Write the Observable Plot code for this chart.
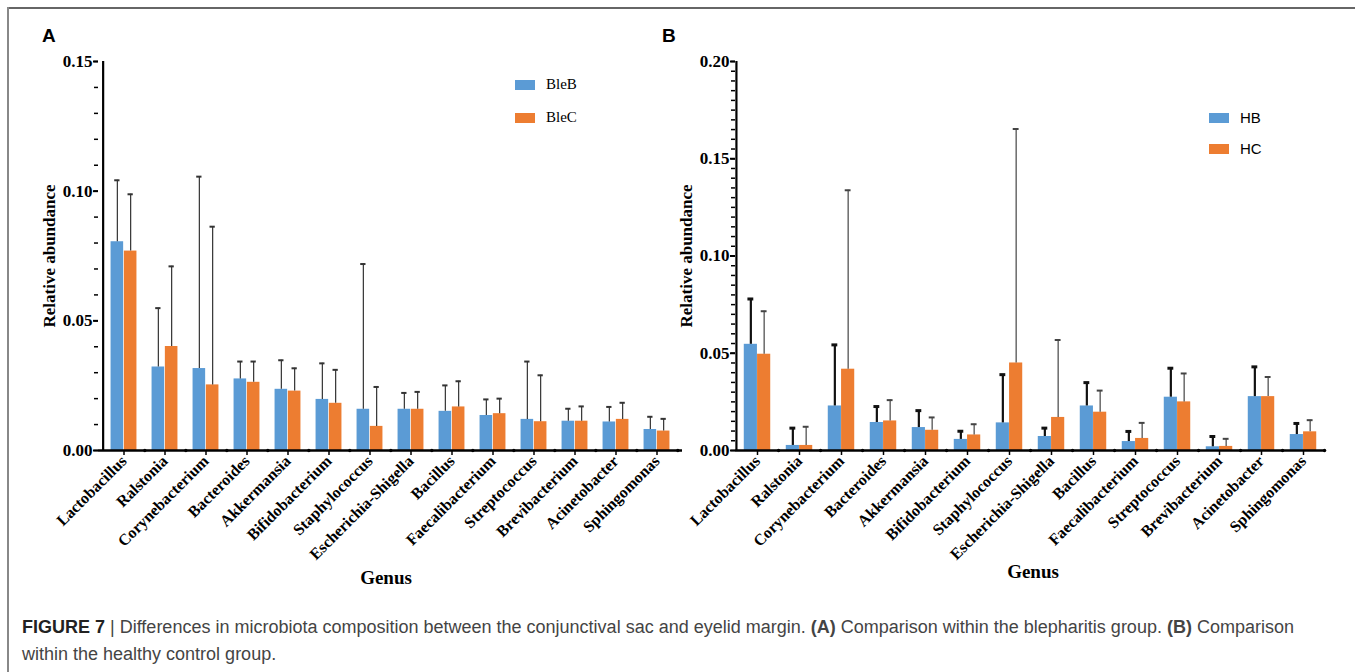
<!DOCTYPE html>
<html>
<head>
<meta charset="utf-8">
<script src="https://cdn.jsdelivr.net/npm/d3@7"></script>
<script src="https://cdn.jsdelivr.net/npm/@observablehq/plot@0.6"></script>
<style>
  html, body { margin: 0; padding: 0; background: #fff; }
  #fig { position: relative; width: 1355px; height: 672px; overflow: hidden; }
  .abs { position: absolute; }
  .panel-label { font-family: "Liberation Sans", Arial, sans-serif; font-weight: bold; font-size: 19px; color: #000; }
  .genus { font-family: "Liberation Serif", serif; font-weight: bold; font-size: 19px; color: #000; transform: translateX(-50%); }
  .leg { display: flex; align-items: center; font-size: 15px; color: #000; }
  .sw { width: 20px; height: 10px; margin-right: 11px; }
  .caption { font-family: "Liberation Sans", Arial, sans-serif; font-size: 18px; color: #444; line-height: 27px; left: 22px; top: 614px; width: 1320px; }
</style>
</head>
<body>
<div id="fig">
  <div class="abs" style="left:7px;top:7px;width:1348px;height:2px;background:#666"></div>
  <div class="abs" style="left:7px;top:7px;width:2px;height:665px;background:#888"></div>
  <div id="panelA" class="abs" style="left:0;top:0"></div>
  <div id="panelB" class="abs" style="left:640px;top:0"></div>
  <div class="abs panel-label" style="left:42px;top:25px">A</div>
  <div class="abs panel-label" style="left:662px;top:25px">B</div>
  <div class="abs genus" style="left:386px;top:567px">Genus</div>
  <div class="abs genus" style="left:1033px;top:561px">Genus</div>
  <div id="legA"></div>
  <div id="legB"></div>
  <div class="abs caption"><b style="color:#222">FIGURE 7</b> | Differences in microbiota composition between the conjunctival sac and eyelid margin. <b>(A)</b> Comparison within the blepharitis group. <b>(B)</b> Comparison within the healthy control group.</div>
</div>
<script>
// ---- data ----
const genera = ["Lactobacillus","Ralstonia","Corynebacterium","Bacteroides","Akkermansia","Bifidobacterium","Staphylococcus","Escherichia-Shigella","Bacillus","Faecalibacterium","Streptococcus","Brevibacterium","Acinetobacter","Sphingomonas"];

const seriesA = ["BleB", "BleC"];
const bleB    = [0.0805,0.0322,0.0316,0.0276,0.0236,0.0197,0.0159,0.0159,0.0151,0.0135,0.0120,0.0113,0.0110,0.0081];
const bleBErr = [0.1042,0.0549,0.1056,0.0343,0.0348,0.0336,0.0719,0.0222,0.0251,0.0197,0.0343,0.0161,0.0168,0.0130];
const bleC    = [0.0769,0.0401,0.0253,0.0263,0.0229,0.0182,0.0093,0.0159,0.0168,0.0142,0.0111,0.0113,0.0120,0.0075];
const bleCErr = [0.0988,0.0710,0.0863,0.0343,0.0317,0.0311,0.0245,0.0226,0.0267,0.0200,0.0290,0.0170,0.0184,0.0122];

const seriesB = ["HB", "HC"];
const hb    = [0.0546,0.0026,0.0229,0.0144,0.0118,0.0057,0.0142,0.0072,0.0229,0.0046,0.0274,0.0019,0.0277,0.0082];
const hbErr = [0.0779,0.0115,0.0543,0.0226,0.0205,0.0099,0.0390,0.0115,0.0349,0.0098,0.0423,0.0072,0.0430,0.0139];
const hc    = [0.0495,0.0026,0.0418,0.0152,0.0104,0.0080,0.0450,0.0170,0.0197,0.0062,0.0250,0.0021,0.0277,0.0096];
const hcErr = [0.0716,0.0122,0.1338,0.0259,0.0170,0.0135,0.1653,0.0568,0.0308,0.0142,0.0396,0.0060,0.0378,0.0156];

const yTicksA = [0, 0.05, 0.10, 0.15];
const yTicksB = [0, 0.05, 0.10, 0.15, 0.20];

const colors = ["#5B9BD5", "#ED7D31"];

function rows(values, errs, name) {
  return genera.map((g, i) => ({genus: g, group: name, value: values[i], err: errs[i]}));
}

function panel({series, s1, s2, yMax, yTicks, minorStep, width, marginLeft, marginRight, errStyle}) {
  const height = 600, marginTop = 61, marginBottom = 150;
  const step = (width - marginLeft - marginRight) / genera.length;
  const barW = 13.3;
  const half = barW / 2;
  const capInset = (step - 6) / 2;
  const minor = d3.range(0, yMax + 1e-9, minorStep);
  const style = {fontFamily: "'Liberation Serif', 'Times New Roman', serif", fontWeight: "bold", fontSize: "14px", color: "#000", background: "transparent", overflow: "visible"};
  return Plot.plot({
    width, height, marginLeft, marginRight, marginTop, marginBottom,
    style,
    x: {domain: genera, padding: 0, label: null},
    y: {domain: [0, yMax], label: null},
    color: {domain: series, range: colors},
    marks: [
      Plot.axisY({ticks: minor, tickSize: 4, tickFormat: () => "", strokeWidth: 1.5}),
      Plot.axisY({ticks: yTicks, tickFormat: d3.format(".2f"), tickSize: 5, strokeWidth: 2, tickPadding: 1, fontSize: 17,
                  label: "Relative abundance", labelAnchor: "center", labelOffset: 56, labelArrow: "none"}),
      Plot.axisX({tickRotate: -45, tickSize: 5, strokeWidth: 1.5, tickPadding: 3, fontSize: 16, label: null}),
      Plot.barY(s1, {x: "genus", y: "value", fill: "group", insetLeft: step / 2 - barW, insetRight: step / 2}),
      Plot.barY(s2, {x: "genus", y: "value", fill: "group", insetLeft: step / 2, insetRight: step / 2 - barW}),
      Plot.ruleX(s1, {x: "genus", y1: "value", y2: "err", dx: -half, stroke: errStyle[0].stroke, strokeWidth: errStyle[0].w}),
      Plot.ruleX(s2, {x: "genus", y1: "value", y2: "err", dx: half, stroke: errStyle[1].stroke, strokeWidth: errStyle[1].w}),
      Plot.tickY(s1, {x: "genus", y: "err", dx: -half, insetLeft: capInset, insetRight: capInset, stroke: errStyle[0].stroke, strokeWidth: errStyle[0].w + 0.8}),
      Plot.tickY(s2, {x: "genus", y: "err", dx: half, insetLeft: capInset, insetRight: capInset, stroke: errStyle[1].stroke, strokeWidth: errStyle[1].w + 0.8}),
      // y axis line along the left edge of the frame
      Plot.ruleX(genera.slice(0, 1), {x: d => d, y1: () => 0, y2: () => yMax, dx: -step / 2, stroke: "#000", strokeWidth: 2.2}),
      Plot.ruleY([0], {stroke: "#000", strokeWidth: 2.5}),
      Plot.dot(genera, {x: d => d, y: () => 0, dx: step / 2, r: 1.7, fill: "#000", stroke: null})
    ]
  });
}

const A = panel({
  series: seriesA, s1: rows(bleB, bleBErr, seriesA[0]), s2: rows(bleC, bleCErr, seriesA[1]),
  yMax: 0.15, yTicks: yTicksA, minorStep: 0.01, width: 690, marginLeft: 98, marginRight: 8,
  errStyle: [{stroke: "#333", w: 1.2}, {stroke: "#333", w: 1.2}]
});
document.getElementById("panelA").appendChild(A);

const B = panel({
  series: seriesB, s1: rows(hb, hbErr, seriesB[0]), s2: rows(hc, hcErr, seriesB[1]),
  yMax: 0.20, yTicks: yTicksB, minorStep: 0.005, width: 700, marginLeft: 95, marginRight: 15,
  errStyle: [{stroke: "#111", w: 2.2}, {stroke: "#444", w: 1.2}]
});
document.getElementById("panelB").appendChild(B);

// legends
function legend(el, names, left, tops, font) {
  names.forEach((n, i) => {
    const d = document.createElement("div");
    d.className = "abs leg";
    d.style.left = left + "px";
    d.style.top = tops[i] + "px";
    d.style.fontFamily = font;
    d.innerHTML = `<span class="sw" style="background:${colors[i]}"></span><span>${n}</span>`;
    el.appendChild(d);
  });
}
legend(document.getElementById("legA"), seriesA, 515, [76, 109], "'Liberation Serif', serif");
legend(document.getElementById("legB"), seriesB, 1209, [109, 140], "'Liberation Sans Narrow', 'Liberation Sans', Arial, sans-serif");
</script>
</body>
</html>
